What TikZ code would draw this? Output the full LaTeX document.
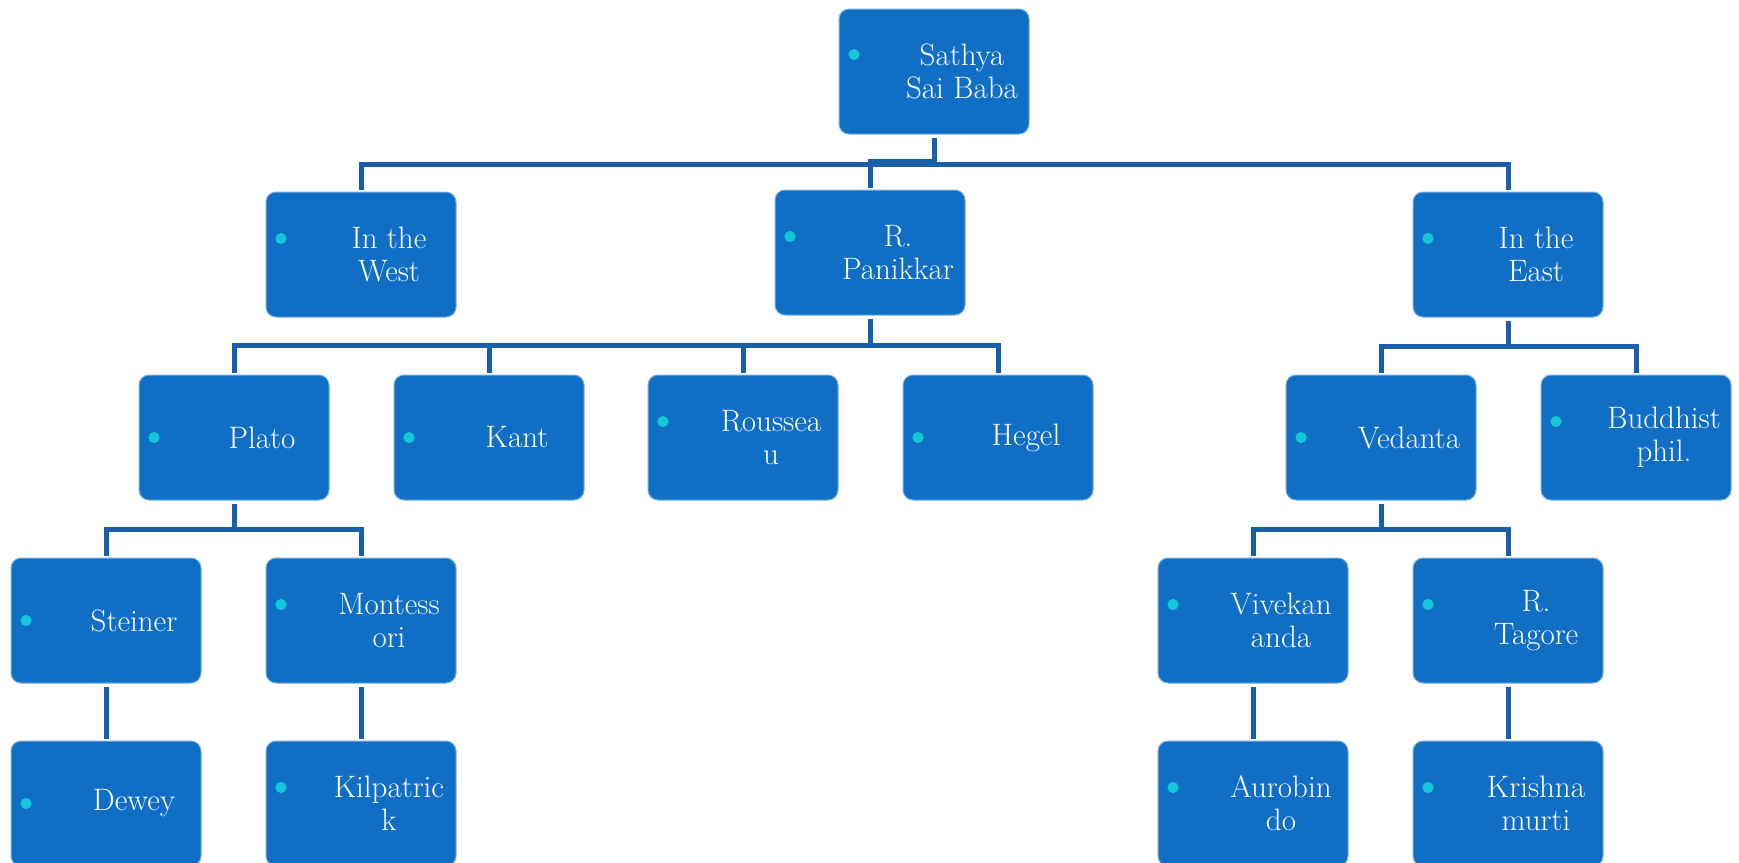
\documentclass[tikz,border=0pt]{standalone}
\usepackage{fontspec}
\definecolor{boxfill}{RGB}{16,110,196}
\definecolor{boxline}{RGB}{120,175,225}
\definecolor{conncol}{RGB}{24,94,168}
\definecolor{bulcol}{RGB}{18,200,215}
\tikzset{
  box/.style={draw=boxline, line width=0.5pt, fill=boxfill, rounded corners=5pt,
    minimum width=95pt, minimum height=62.5pt, inner sep=0pt},
  txt/.style={text=white, align=center, font=\fontsize{15.5}{16.5}\selectfont, inner sep=0pt},
  bul/.style={fill=bulcol},
  conn/.style={draw=conncol, line width=2.5pt, line join=miter}
}
\newcommand{\ptbox}[5]{%
  \node[box] (#1) at (#2,#3) {};
  \node[txt] (#1t) at ([xshift=14pt]#1.center) {#4};
  \fill[bul] ([xshift=-40pt,yshift=#5]#1.center) circle (2.8pt);
}
\begin{document}
\begin{tikzpicture}[x=0.5pt,y=-0.5pt]
\useasboundingbox (0,0) rectangle (1739,862);
\fill[white] (0,0) rectangle (1739,862);
% row 0
\ptbox{sathya}{934}{71.5}{Sathya\\Sai Baba}{8.5pt}
% row 1
\ptbox{west}{361}{254.5}{In the\\West}{8pt}
\ptbox{panikkar}{870}{252.5}{R.\\Panikkar}{8pt}
\ptbox{east}{1508}{254.5}{In the\\East}{8pt}
% row 2
\ptbox{plato}{234}{437.5}{Plato}{0pt}
\ptbox{kant}{489}{437.5}{Kant}{0pt}
\ptbox{rousseau}{743}{437.5}{Roussea\\u}{8pt}
\ptbox{hegel}{998}{437.5}{Hegel}{0pt}
\ptbox{vedanta}{1381}{437.5}{Vedanta}{0pt}
\ptbox{buddhist}{1636}{437.5}{Buddhist\\phil.}{8pt}
% row 3
\ptbox{steiner}{106}{620.5}{Steiner}{0pt}
\ptbox{montessori}{361}{620.5}{Montess\\ori}{8pt}
\ptbox{vivekananda}{1253}{620.5}{Vivekan\\anda}{8pt}
\ptbox{tagore}{1508}{620.5}{R.\\Tagore}{8pt}
% row 4
\ptbox{dewey}{106}{803.5}{Dewey}{0pt}
\ptbox{kilpatrick}{361}{803.5}{Kilpatric\\k}{8pt}
\ptbox{aurobindo}{1253}{803.5}{Aurobin\\do}{8pt}
\ptbox{krishnamurti}{1508}{803.5}{Krishna\\murti}{8pt}
% connectors
\draw[conn] ([yshift=-1.5pt]sathya.south) -- ++(0,27) -| ([yshift=1pt]west.north);
\draw[conn] ([yshift=-1.5pt]sathya.south) -- ++(0,27) -| ([yshift=1pt]east.north);
\draw[conn] ([yshift=-1.5pt]sathya.south) -- ++(0,24) -| ([yshift=1pt]panikkar.north);
\foreach \c in {plato,kant,rousseau,hegel}
  \draw[conn] ([yshift=-1.5pt]panikkar.south) -- ++(0,27) -| ([yshift=1pt]\c.north);
\foreach \c in {vedanta,buddhist}
  \draw[conn] ([yshift=-1.5pt]east.south) -- ++(0,26) -| ([yshift=1pt]\c.north);
\foreach \c in {steiner,montessori}
  \draw[conn] ([yshift=-1.5pt]plato.south) -- ++(0,26) -| ([yshift=1pt]\c.north);
\foreach \c in {vivekananda,tagore}
  \draw[conn] ([yshift=-1.5pt]vedanta.south) -- ++(0,26) -| ([yshift=1pt]\c.north);
\draw[conn] ([yshift=-1.5pt]steiner.south) -- ([yshift=1pt]dewey.north);
\draw[conn] ([yshift=-1.5pt]montessori.south) -- ([yshift=1pt]kilpatrick.north);
\draw[conn] ([yshift=-1.5pt]vivekananda.south) -- ([yshift=1pt]aurobindo.north);
\draw[conn] ([yshift=-1.5pt]tagore.south) -- ([yshift=1pt]krishnamurti.north);
\end{tikzpicture}
\end{document}
